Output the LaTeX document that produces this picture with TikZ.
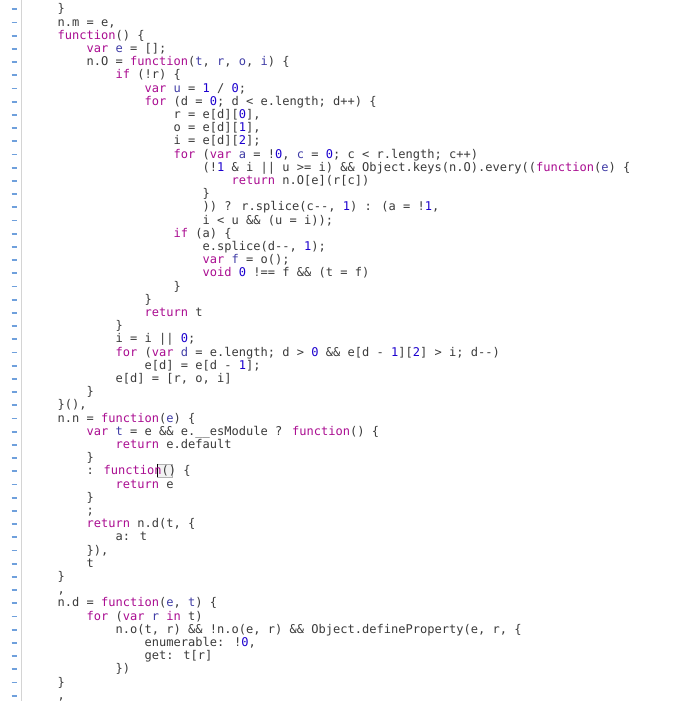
\documentclass[tikz,border=0pt]{standalone}
\usepackage{fontspec}
\usepackage{tikz}
\usepackage{xcolor}
\newfontfamily\codefont{DejaVu Sans Mono}
\definecolor{keyword}{HTML}{AA0D91}
\definecolor{number}{HTML}{1C00CF}
\definecolor{declname}{HTML}{3F3CA6}
\definecolor{codetext}{HTML}{3A3A3A}
\definecolor{gutterblue}{HTML}{6FA0DC}
\definecolor{guttergray}{HTML}{D4D4D4}
\newcommand{\kw}[1]{\textcolor{keyword}{#1}}
\newcommand{\nb}[1]{\textcolor{number}{#1}}
\newcommand{\vd}[1]{\textcolor{declname}{#1}}

\begin{document}
\begin{tikzpicture}[x = 7.25pt, y = -13.2pt,
  code/.style = {anchor = base west, inner sep = 0pt, text = codetext,
    font = \codefont\fontsize{12.04pt}{13.2pt}\selectfont},
  gutter_dash/.style = {gutterblue, line width = 1.8pt},
  gutter_line/.style = {guttergray, line width = 0.9pt},
  paren_box/.style = {draw = black!30, fill = black!5, line width = 0.6pt}]
\fill[white] (0,0) rectangle (93.655,53.106);
\useasboundingbox (0,0) rectangle (93.655,53.106);

\foreach \k in {1,...,53}
  \draw[gutter_dash] (1.61,{\k-0.295}) -- (2.39,{\k-0.295});
\draw[gutter_line] (2.897,0) -- (2.897,53.106);

\begin{scope}[shift = {(7.931,-0.03)}]
\draw[paren_box] (13.75,35.17) rectangle (15.9,36.18);
\draw[black, line width = 0.9pt] (13.75,35.17) -- (13.75,36.18);

\node[code] (close_top) at (0,1) {\}};
\node[code] (n_m) at (0,2) {n.m = e,};
\node[code] (outer_fn) at (0,3) {\kw{function}() \{};
\node[code] (var_e) at (4,4) {\kw{var} \vd{e} = [];};
\node[code] (n_O) at (4,5) {n.O = \kw{function}(\vd{t}, \vd{r}, \vd{o}, \vd{i}) \{};
\node[code] (if_r) at (8,6) {\kw{if} (!r) \{};
\node[code] (var_u) at (12,7) {\kw{var} \vd{u} = \nb{1} / \nb{0};};
\node[code] (for_d) at (12,8) {\kw{for} (d = \nb{0}; d < e.length; d++) \{};
\node[code] (set_r) at (16,9) {r = e[d][\nb{0}],};
\node[code] (set_o) at (16,10) {o = e[d][\nb{1}],};
\node[code] (set_i) at (16,11) {i = e[d][\nb{2}];};
\node[code] (for_c) at (16,12) {\kw{for} (\kw{var} \vd{a} = !\nb{0}, \vd{c} = \nb{0}; c < r.length; c++)};
\node[code] (keys_every) at (20,13) {(!\nb{1} \& i || u >= i) \&\& Object.keys(n.O).every((\kw{function}(\vd{e}) \{};
\node[code] (ret_O) at (24,14) {\kw{return} n.O[e](r[c])};
\node[code] (close_every) at (20,15) {\}};
\node[code] (splice_c) at (20,16) {)) ? r.splice(c-{}-, \nb{1}) : (a = !\nb{1},};
\node[code] (u_min) at (20,17) {i < u \&\& (u = i));};
\node[code] (if_a) at (16,18) {\kw{if} (a) \{};
\node[code] (splice_d) at (20,19) {e.splice(d-{}-, \nb{1});};
\node[code] (var_f) at (20,20) {\kw{var} \vd{f} = o();};
\node[code] (void_f) at (20,21) {\kw{void} \nb{0} !== f \&\& (t = f)};
\node[code] (close_if_a) at (16,22) {\}};
\node[code] (close_for_d) at (12,23) {\}};
\node[code] (ret_t) at (12,24) {\kw{return} t};
\node[code] (close_if_r) at (8,25) {\}};
\node[code] (set_i0) at (8,26) {i = i || \nb{0};};
\node[code] (for_shift) at (8,27) {\kw{for} (\kw{var} \vd{d} = e.length; d > \nb{0} \&\& e[d - \nb{1}][\nb{2}] > i; d-{}-)};
\node[code] (shift_e) at (12,28) {e[d] = e[d - \nb{1}];};
\node[code] (put_e) at (8,29) {e[d] = [r, o, i]};
\node[code] (close_n_O) at (4,30) {\}};
\node[code] (call_outer) at (0,31) {\}(),};
\node[code] (n_n) at (0,32) {n.n = \kw{function}(\vd{e}) \{};
\node[code] (var_t) at (4,33) {\kw{var} \vd{t} = e \&\& e.\_\_esModule ? \kw{function}() \{};
\node[code] (ret_default) at (8,34) {\kw{return} e.default};
\node[code] (close_default) at (4,35) {\}};
\node[code] (else_fn) at (4,36) {: \kw{function}() \{};
\node[code] (ret_e) at (8,37) {\kw{return} e};
\node[code] (close_else) at (4,38) {\}};
\node[code] (semi) at (4,39) {;};
\node[code] (ret_nd) at (4,40) {\kw{return} n.d(t, \{};
\node[code] (a_t) at (8,41) {a: t};
\node[code] (close_nd) at (4,42) {\}),};
\node[code] (last_t) at (4,43) {t};
\node[code] (close_n_n) at (0,44) {\}};
\node[code] (comma_n_n) at (0,45) {,};
\node[code] (n_d) at (0,46) {n.d = \kw{function}(\vd{e}, \vd{t}) \{};
\node[code] (for_r) at (4,47) {\kw{for} (\kw{var} \vd{r} \kw{in} t)};
\node[code] (define_prop) at (8,48) {n.o(t, r) \&\& !n.o(e, r) \&\& Object.defineProperty(e, r, \{};
\node[code] (enumerable) at (12,49) {enumerable: !\nb{0},};
\node[code] (getter) at (12,50) {get: t[r]};
\node[code] (close_prop) at (8,51) {\})};
\node[code] (close_n_d) at (0,52) {\}};
\node[code] (comma_n_d) at (0,53) {,};
\end{scope}
\end{tikzpicture}
\end{document}
